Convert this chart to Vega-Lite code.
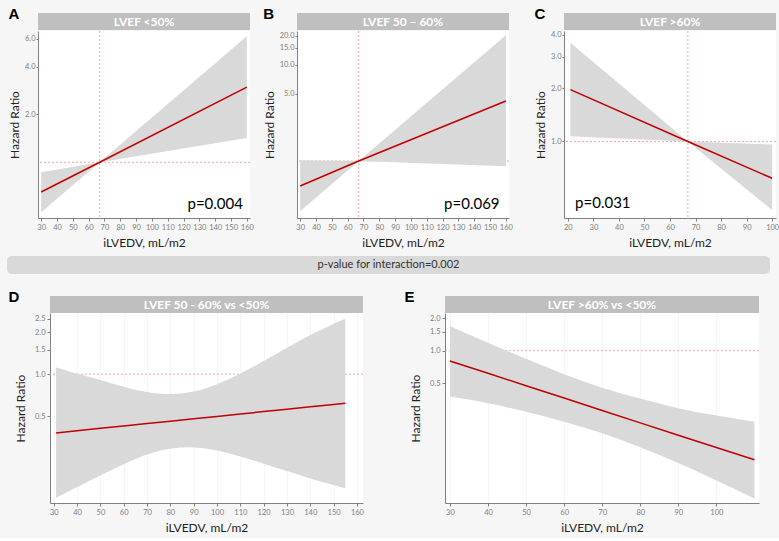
{
  "$schema": "https://vega.github.io/schema/vega-lite/v6.json",
  "background": "#f6f6f6",
  "padding": {"left": 7, "top": 7, "right": 4, "bottom": 4},
  "datasets": {
    "A": [{"x":30,"lo":0.485,"est":0.65,"hi":0.865},{"x":67,"lo":1,"est":1,"hi":1},{"x":160,"lo":1.42,"est":2.97,"hi":6.2}],
    "B": [{"x":30,"lo":0.30,"est":0.55,"hi":1.02},{"x":67,"lo":1,"est":1,"hi":1},{"x":160,"lo":0.88,"est":4.2,"hi":20.2}],
    "C": [{"x":21,"lo":1.07,"est":1.96,"hi":3.6},{"x":67,"lo":1,"est":1,"hi":1},{"x":100,"lo":0.41,"est":0.62,"hi":0.96}],
    "D": [
      {"x":31,"lo":0.13,"est":0.379,"hi":1.12},
      {"x":40,"lo":0.155,"est":0.393,"hi":1.01},
      {"x":50,"lo":0.187,"est":0.409,"hi":0.91},
      {"x":60,"lo":0.227,"est":0.425,"hi":0.81},
      {"x":70,"lo":0.268,"est":0.442,"hi":0.74},
      {"x":80,"lo":0.295,"est":0.46,"hi":0.71},
      {"x":90,"lo":0.302,"est":0.479,"hi":0.74},
      {"x":100,"lo":0.285,"est":0.498,"hi":0.84},
      {"x":110,"lo":0.258,"est":0.518,"hi":1.01},
      {"x":120,"lo":0.228,"est":0.539,"hi":1.24},
      {"x":130,"lo":0.202,"est":0.561,"hi":1.55},
      {"x":140,"lo":0.178,"est":0.583,"hi":1.92},
      {"x":150,"lo":0.16,"est":0.607,"hi":2.3},
      {"x":155,"lo":0.152,"est":0.619,"hi":2.5}
    ],
    "E": [
      {"x":30,"lo":0.376,"est":0.803,"hi":1.68},
      {"x":40,"lo":0.33,"est":0.618,"hi":1.18},
      {"x":50,"lo":0.273,"est":0.474,"hi":0.84},
      {"x":60,"lo":0.221,"est":0.365,"hi":0.6},
      {"x":70,"lo":0.174,"est":0.28,"hi":0.45},
      {"x":80,"lo":0.128,"est":0.215,"hi":0.36},
      {"x":90,"lo":0.092,"est":0.165,"hi":0.29},
      {"x":100,"lo":0.063,"est":0.127,"hi":0.25},
      {"x":110,"lo":0.043,"est":0.098,"hi":0.22}
    ]
  },
  "columns": 1,
  "align": "none",
  "spacing": 16,
  "concat": [
    {
      "columns": 1,
      "align": "none",
      "spacing": 7,
      "concat": [
        {
          "spacing": 0,
          "hconcat": [
            {"width": 1, "height": 1, "view": {"fill": null, "stroke": null}, "data": {"values": []}, "mark": "point"},
            {
              "spacing": 9,
              "hconcat": [
                {
                  "title": {"text": "A", "offset": -9},
                  "spacing": 0,
                  "vconcat": [
                    {"width": 212, "height": 17, "view": {"fill": "#bfbfbf"}, "data": {"values": [{"t": "LVEF <50%"}]},
                     "mark": {"type": "text", "color": "white", "fontWeight": "bold", "fontSize": 12},
                     "encoding": {"text": {"field": "t", "type": "nominal"}}},
                    {"width": 212, "height": 187,
                     "layer": [
                       {"data": {"values": [{}]}, "mark": {"type": "rule", "color": "#f29a9a", "strokeDash": [2,2], "strokeWidth": 0.9},
                        "encoding": {"y": {"datum": 1, "type": "quantitative", "title": "Hazard Ratio", "scale": {"type": "log", "domain": [0.446, 6.7], "nice": false}}}},
                       {"data": {"values": [{}]}, "mark": {"type": "rule", "color": "#f29a9a", "strokeDash": [2,2], "strokeWidth": 0.9},
                        "encoding": {"x": {"datum": 67, "type": "quantitative", "title": "iLVEDV, mL/m2", "scale": {"domain": [28, 162], "nice": false, "zero": false}}}},
                       {"data": {"name": "A"}, "mark": {"type": "area", "color": "#d9d9d9", "opacity": 1},
                        "encoding": {
                          "x": {"field": "x", "type": "quantitative", "title": "iLVEDV, mL/m2", "scale": {"domain": [28, 162], "nice": false, "zero": false},
                                "axis": {"values": [30,40,50,60,70,80,90,100,110,120,130,140,150,160], "tickCount": 30, "labelOverlap": false}},
                          "y": {"field": "lo", "type": "quantitative", "title": "Hazard Ratio", "scale": {"type": "log", "domain": [0.446, 6.7], "nice": false},
                                "axis": {"values": [2,4,6], "format": ".1f", "labelOverlap": false}},
                          "y2": {"field": "hi"}}},
                       {"data": {"name": "A"}, "mark": {"type": "line", "color": "#c00000", "strokeWidth": 1.5},
                        "encoding": {"x": {"field": "x", "type": "quantitative", "title": "iLVEDV, mL/m2"}, "y": {"field": "est", "type": "quantitative", "title": "Hazard Ratio"}}},
                       {"data": {"values": [{"px": 140, "py": 0.55, "t": "p=0.004"}]}, "mark": {"type": "text", "fontSize": 15, "color": "black"},
                        "encoding": {"x": {"field": "px", "type": "quantitative", "title": "iLVEDV, mL/m2"}, "y": {"field": "py", "type": "quantitative", "title": "Hazard Ratio"}, "text": {"field": "t", "type": "nominal"}}}
                     ]}
                  ]
                },
                {
                  "spacing": 21,
                  "hconcat": [
                    {
                      "title": {"text": "B", "offset": -9},
                      "spacing": 0,
                      "vconcat": [
                        {"width": 212, "height": 17, "view": {"fill": "#bfbfbf"}, "data": {"values": [{"t": "LVEF 50 – 60%"}]},
                         "mark": {"type": "text", "color": "white", "fontWeight": "bold", "fontSize": 12},
                         "encoding": {"text": {"field": "t", "type": "nominal"}}},
                        {"width": 212, "height": 187,
                         "layer": [
                           {"data": {"values": [{}]}, "mark": {"type": "rule", "color": "#f29a9a", "strokeDash": [2,2], "strokeWidth": 0.9},
                            "encoding": {"y": {"datum": 1, "type": "quantitative", "title": "Hazard Ratio", "scale": {"type": "log", "domain": [0.256, 22.4], "nice": false}}}},
                           {"data": {"values": [{}]}, "mark": {"type": "rule", "color": "#f29a9a", "strokeDash": [2,2], "strokeWidth": 0.9},
                            "encoding": {"x": {"datum": 67, "type": "quantitative", "title": "iLVEDV, mL/m2", "scale": {"domain": [28, 162], "nice": false, "zero": false}}}},
                           {"data": {"name": "B"}, "mark": {"type": "area", "color": "#d9d9d9", "opacity": 1},
                            "encoding": {
                              "x": {"field": "x", "type": "quantitative", "title": "iLVEDV, mL/m2", "scale": {"domain": [28, 162], "nice": false, "zero": false},
                                    "axis": {"values": [30,40,50,60,70,80,90,100,110,120,130,140,150,160], "tickCount": 30, "labelOverlap": false}},
                              "y": {"field": "lo", "type": "quantitative", "title": "Hazard Ratio", "scale": {"type": "log", "domain": [0.256, 22.4], "nice": false},
                                    "axis": {"values": [5,10,15,20], "format": ".1f", "labelOverlap": false}},
                              "y2": {"field": "hi"}}},
                           {"data": {"name": "B"}, "mark": {"type": "line", "color": "#c00000", "strokeWidth": 1.5},
                            "encoding": {"x": {"field": "x", "type": "quantitative", "title": "iLVEDV, mL/m2"}, "y": {"field": "est", "type": "quantitative", "title": "Hazard Ratio"}}},
                           {"data": {"values": [{"px": 138.5, "py": 0.36, "t": "p=0.069"}]}, "mark": {"type": "text", "fontSize": 15, "color": "black"},
                            "encoding": {"x": {"field": "px", "type": "quantitative", "title": "iLVEDV, mL/m2"}, "y": {"field": "py", "type": "quantitative", "title": "Hazard Ratio"}, "text": {"field": "t", "type": "nominal"}}}
                         ]}
                      ]
                    },
                    {
                      "title": {"text": "C", "offset": -9},
                      "spacing": 0,
                      "vconcat": [
                        {"width": 212, "height": 17, "view": {"fill": "#bfbfbf"}, "data": {"values": [{"t": "LVEF >60%"}]},
                         "mark": {"type": "text", "color": "white", "fontWeight": "bold", "fontSize": 12},
                         "encoding": {"text": {"field": "t", "type": "nominal"}}},
                        {"width": 212, "height": 187,
                         "layer": [
                           {"data": {"values": [{}]}, "mark": {"type": "rule", "color": "#f29a9a", "strokeDash": [2,2], "strokeWidth": 0.9},
                            "encoding": {"y": {"datum": 1, "type": "quantitative", "title": "Hazard Ratio", "scale": {"type": "log", "domain": [0.37, 4.2], "nice": false}}}},
                           {"data": {"values": [{}]}, "mark": {"type": "rule", "color": "#f29a9a", "strokeDash": [2,2], "strokeWidth": 0.9},
                            "encoding": {"x": {"datum": 67, "type": "quantitative", "title": "iLVEDV, mL/m2", "scale": {"domain": [18.5, 101.5], "nice": false, "zero": false}}}},
                           {"data": {"name": "C"}, "mark": {"type": "area", "color": "#d9d9d9", "opacity": 1},
                            "encoding": {
                              "x": {"field": "x", "type": "quantitative", "title": "iLVEDV, mL/m2", "scale": {"domain": [18.5, 101.5], "nice": false, "zero": false},
                                    "axis": {"values": [20,30,40,50,60,70,80,90,100], "tickCount": 30, "labelOverlap": false}},
                              "y": {"field": "lo", "type": "quantitative", "title": "Hazard Ratio", "scale": {"type": "log", "domain": [0.37, 4.2], "nice": false},
                                    "axis": {"values": [1,2,3,4], "format": ".1f", "labelOverlap": false}},
                              "y2": {"field": "hi"}}},
                           {"data": {"name": "C"}, "mark": {"type": "line", "color": "#c00000", "strokeWidth": 1.5},
                            "encoding": {"x": {"field": "x", "type": "quantitative", "title": "iLVEDV, mL/m2"}, "y": {"field": "est", "type": "quantitative", "title": "Hazard Ratio"}}},
                           {"data": {"values": [{"px": 33.7, "py": 0.447, "t": "p=0.031"}]}, "mark": {"type": "text", "fontSize": 15, "color": "black"},
                            "encoding": {"x": {"field": "px", "type": "quantitative", "title": "iLVEDV, mL/m2"}, "y": {"field": "py", "type": "quantitative", "title": "Hazard Ratio"}, "text": {"field": "t", "type": "nominal"}}}
                         ]}
                      ]
                    }
                  ]
                }
              ]
            }
          ]
        },
        {"width": 763, "height": 18, "view": {"fill": "#d9d9d9", "cornerRadius": 5}, "data": {"values": [{"t": "p-value for interaction=0.002"}]},
         "mark": {"type": "text", "color": "#333333", "fontSize": 11},
         "encoding": {"text": {"field": "t", "type": "nominal"}}}
      ]
    },
    {
      "spacing": 0,
      "hconcat": [
        {"width": 1, "height": 1, "view": {"fill": null, "stroke": null}, "data": {"values": []}, "mark": "point"},
        {
          "spacing": 40,
          "hconcat": [
            {
              "title": {"text": "D", "offset": -9, "dx": -6},
              "spacing": 0,
              "vconcat": [
                {"width": 313, "height": 17, "view": {"fill": "#bfbfbf"}, "data": {"values": [{"t": "LVEF 50 - 60% vs <50%"}]},
                 "mark": {"type": "text", "color": "white", "fontWeight": "bold", "fontSize": 12},
                 "encoding": {"text": {"field": "t", "type": "nominal"}}},
                {"width": 313, "height": 190,
                 "layer": [
                   {"data": {"values": [{}]}, "mark": {"type": "rule", "color": "#f29a9a", "strokeDash": [2,2], "strokeWidth": 0.9},
                    "encoding": {"y": {"datum": 1, "type": "quantitative", "title": "Hazard Ratio", "scale": {"type": "log", "domain": [0.119, 2.75], "nice": false}}}},
                   {"data": {"name": "D"}, "mark": {"type": "area", "color": "#d9d9d9", "opacity": 1, "interpolate": "basis"},
                    "encoding": {
                      "x": {"field": "x", "type": "quantitative", "title": "iLVEDV, mL/m2", "scale": {"domain": [28.4, 162.6], "nice": false, "zero": false},
                            "axis": {"values": [30,40,50,60,70,80,90,100,110,120,130,140,150,160], "tickCount": 30, "labelOverlap": false}},
                      "y": {"field": "lo", "type": "quantitative", "title": "Hazard Ratio", "scale": {"type": "log", "domain": [0.119, 2.75], "nice": false},
                            "axis": {"values": [0.5,1,1.5,2,2.5], "format": ".1f", "labelOverlap": false, "titlePadding": 7, "labelPadding": 2, "tickSize": 3}},
                      "y2": {"field": "hi"}}},
                   {"data": {"name": "D"}, "mark": {"type": "line", "color": "#c00000", "strokeWidth": 1.5},
                    "encoding": {"x": {"field": "x", "type": "quantitative", "title": "iLVEDV, mL/m2"}, "y": {"field": "est", "type": "quantitative", "title": "Hazard Ratio"}}}
                 ]}
              ]
            },
            {
              "title": {"text": "E", "offset": -9, "dx": -5},
              "spacing": 0,
              "vconcat": [
                {"width": 314, "height": 17, "view": {"fill": "#bfbfbf"}, "data": {"values": [{"t": "LVEF >60% vs <50%"}]},
                 "mark": {"type": "text", "color": "white", "fontWeight": "bold", "fontSize": 12},
                 "encoding": {"text": {"field": "t", "type": "nominal"}}},
                {"width": 314, "height": 190,
                 "layer": [
                   {"data": {"values": [{}]}, "mark": {"type": "rule", "color": "#f29a9a", "strokeDash": [2,2], "strokeWidth": 0.9},
                    "encoding": {"y": {"datum": 1, "type": "quantitative", "title": "Hazard Ratio", "scale": {"type": "log", "domain": [0.039, 2.23], "nice": false}}}},
                   {"data": {"name": "E"}, "mark": {"type": "area", "color": "#d9d9d9", "opacity": 1, "interpolate": "basis"},
                    "encoding": {
                      "x": {"field": "x", "type": "quantitative", "title": "iLVEDV, mL/m2", "scale": {"domain": [28.7, 111.2], "nice": false, "zero": false},
                            "axis": {"values": [30,40,50,60,70,80,90,100], "tickCount": 30, "labelOverlap": false}},
                      "y": {"field": "lo", "type": "quantitative", "title": "Hazard Ratio", "scale": {"type": "log", "domain": [0.039, 2.23], "nice": false},
                            "axis": {"values": [0.5,1,1.5,2], "format": ".1f", "labelOverlap": false, "titlePadding": 7, "labelPadding": 2, "tickSize": 3}},
                      "y2": {"field": "hi"}}},
                   {"data": {"name": "E"}, "mark": {"type": "line", "color": "#c00000", "strokeWidth": 1.5},
                    "encoding": {"x": {"field": "x", "type": "quantitative", "title": "iLVEDV, mL/m2"}, "y": {"field": "est", "type": "quantitative", "title": "Hazard Ratio"}}}
                 ]}
              ]
            }
          ]
        }
      ]
    }
  ],
  "config": {
    "font": "Lato",
    "view": {"stroke": null, "fill": "white"},
    "axis": {"labelFontSize": 7.5, "labelColor": "#808080", "labelFont": "Lato", "titleFont": "Lato", "titleFontSize": 12, "titleFontWeight": "normal", "titleColor": "#222222",
             "domainColor": "#808080", "tickColor": "#808080", "tickSize": 2, "labelPadding": 1, "gridColor": "#eeeeee", "gridWidth": 0.6, "labelFlush": false, "labelOverlap": false},
    "axisX": {"titlePadding": 7, "labelPadding": 2, "tickSize": 3},
    "axisY": {"titlePadding": 3},
    "title": {"font": "Liberation Sans", "fontSize": 15, "fontWeight": "bold", "color": "black", "anchor": "start"}
  }
}
